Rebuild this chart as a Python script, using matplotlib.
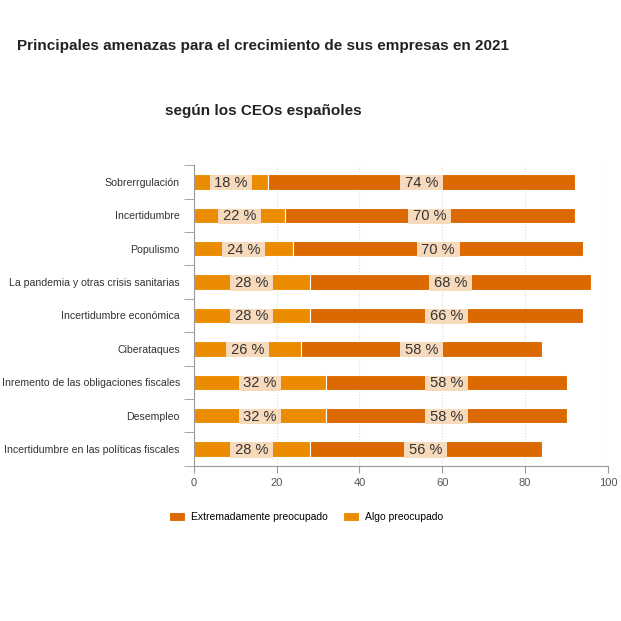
import matplotlib.pyplot as plt
import numpy as np

plt.rcParams['font.family'] = ['Liberation Sans', 'DejaVu Sans']

categorias = ["Sobrerrgulación", "Incertidumbre", "Populismo",
              "La pandemia y otras crisis sanitarias", "Incertidumbre económica",
              "Ciberataques", "Inremento de las obligaciones fiscales",
              "Desempleo", "Incertidumbre en las políticas fiscales"]
algo = [18, 22, 24, 28, 28, 26, 32, 32, 28]
extremadamente = [74, 70, 70, 68, 66, 58, 58, 58, 56]

c_extrema = "#dc6900"
c_algo = "#eb8c00"
c_etiqueta = "#f7d9bb"

fig = plt.figure(figsize=(6.21, 6.21), dpi=100)
ax = fig.add_axes([0.312, 0.250, 0.667, 0.484])

y = np.arange(len(categorias))
ax.barh(y, algo, height=0.46, color=c_algo, edgecolor="white", linewidth=0.8,
        label="Algo preocupado")
ax.barh(y, extremadamente, left=algo, height=0.46, color=c_extrema,
        edgecolor="white", linewidth=0.8, label="Extremadamente preocupado")

for i in range(len(categorias)):
    for xc, v in [(algo[i] / 2, algo[i]), (algo[i] + extremadamente[i] / 2, extremadamente[i])]:
        ax.text(xc, i + 0.03, f" {v} % ", ha="center", va="center", fontsize=10.5, color="#333333",
                bbox=dict(boxstyle="square,pad=0.04", fc=c_etiqueta, ec="none"))

ax.set_xlim(0, 100)
ax.set_ylim(len(categorias) - 0.5, -0.5)
ax.set_xticks([0, 20, 40, 60, 80, 100])
ax.set_yticks(y)
ax.set_yticklabels(categorias, fontsize=7.6, color="#333333")
ax.set_yticks(np.arange(-0.5, len(categorias)), minor=True)
ax.tick_params(axis="y", which="major", length=0, pad=10)
ax.tick_params(axis="y", which="minor", length=7, color="#999999")
ax.tick_params(axis="x", length=5, color="#999999", labelsize=8, labelcolor="#555555")
ax.grid(axis="x", linestyle=":", color="#dddddd", linewidth=0.8)
ax.set_axisbelow(True)
for s in ["top", "right"]:
    ax.spines[s].set_visible(False)
ax.spines["left"].set_color("#999999")
ax.spines["bottom"].set_color("#999999")

fig.text(0.424, 0.926, "Principales amenazas para el crecimiento de sus empresas en 2021",
         ha="center", va="center", fontsize=11, fontweight="bold", color="#222222")
fig.text(0.424, 0.821, "según los CEOs españoles", ha="center", va="center",
         fontsize=11, fontweight="bold", color="#222222")

handles, labels = ax.get_legend_handles_labels()
fig.legend(handles[::-1], labels[::-1], loc="center", bbox_to_anchor=(0.493, 0.168),
           ncol=2, frameon=False, fontsize=7.5, handlelength=1.5, handleheight=1.0,
           columnspacing=1.5, handletextpad=0.6)

fig.savefig("out.png", dpi=100, facecolor="white")
